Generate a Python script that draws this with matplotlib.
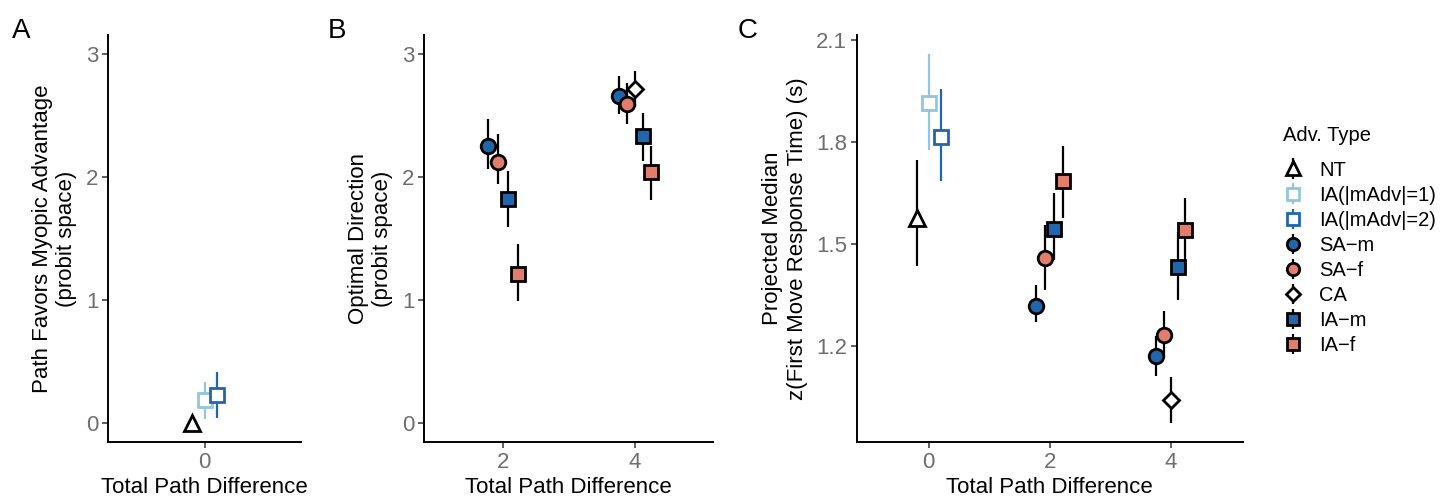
import numpy as np
import matplotlib
matplotlib.use("Agg")
import matplotlib.pyplot as plt

plt.rcParams['font.family'] = ['Liberation Sans', 'DejaVu Sans']

# adv types, in legend order
types = ["NT", "IA(|mAdv|=1)", "IA(|mAdv|=2)", "SA\u2212m", "SA\u2212f", "CA", "IA\u2212m", "IA\u2212f"]
dodge = {"NT": -0.2, "IA(|mAdv|=1)": 0.0, "IA(|mAdv|=2)": 0.2}

# panel A: path favours myopic advantage (x = 0 only)
a_types = ["NT", "IA(|mAdv|=1)", "IA(|mAdv|=2)"]
a_y = [0.0, 0.19, 0.23]
a_lo = [-0.01, 0.03, 0.04]
a_hi = [0.01, 0.33, 0.41]

# panel B: optimal direction
b_types = ["SA\u2212m", "SA\u2212f", "IA\u2212m", "IA\u2212f",
           "SA\u2212m", "SA\u2212f", "CA", "IA\u2212m", "IA\u2212f"]
b_x = [1.775, 1.925, 2.075, 2.225, 3.76, 3.88, 4.0, 4.12, 4.24]
b_y = [2.25, 2.12, 1.82, 1.21, 2.66, 2.59, 2.71, 2.33, 2.04]
b_lo = [2.06, 1.94, 1.59, 0.99, 2.51, 2.43, 2.57, 2.13, 1.81]
b_hi = [2.47, 2.35, 2.05, 1.45, 2.82, 2.76, 2.86, 2.52, 2.25]

# panel C: projected median z(first move RT)
c_types = ["NT", "IA(|mAdv|=1)", "IA(|mAdv|=2)",
           "SA\u2212m", "SA\u2212f", "IA\u2212m", "IA\u2212f",
           "SA\u2212m", "SA\u2212f", "CA", "IA\u2212m", "IA\u2212f"]
c_x = [-0.2, 0.0, 0.2, 1.775, 1.925, 2.075, 2.225, 3.76, 3.88, 4.0, 4.12, 4.24]
c_y = [1.576, 1.916, 1.816, 1.318, 1.460, 1.546, 1.685, 1.172, 1.232, 1.043, 1.433, 1.541]
c_lo = [1.436, 1.776, 1.685, 1.271, 1.365, 1.453, 1.576, 1.113, 1.17, 0.973, 1.337, 1.453]
c_hi = [1.747, 2.059, 1.956, 1.379, 1.556, 1.652, 1.789, 1.23, 1.303, 1.11, 1.536, 1.636]

blue = "#2166AC"
lblue = "#92C5DE"
salmon = "#E27C6B"
style = {
    "NT": dict(marker="^", mfc="white", mec="black", ecolor="black", ms=12),
    "IA(|mAdv|=1)": dict(marker="s", mfc="white", mec=lblue, ecolor=lblue, ms=9.5),
    "IA(|mAdv|=2)": dict(marker="s", mfc="white", mec=blue, ecolor=blue, ms=9.5),
    "SA\u2212m": dict(marker="o", mfc=blue, mec="black", ecolor="black", ms=10.5),
    "SA\u2212f": dict(marker="o", mfc=salmon, mec="black", ecolor="black", ms=10.5),
    "CA": dict(marker="D", mfc="white", mec="black", ecolor="black", ms=8.5),
    "IA\u2212m": dict(marker="s", mfc=blue, mec="black", ecolor="black", ms=9.5),
    "IA\u2212f": dict(marker="s", mfc=salmon, mec="black", ecolor="black", ms=9.5),
}

fig = plt.figure(figsize=(14.52, 5.03), dpi=100)
axA = fig.add_axes([0.0744, 0.1213, 0.1329, 0.8087])
axB = fig.add_axes([0.292, 0.1213, 0.199, 0.8087])
axC = fig.add_axes([0.590, 0.1213, 0.266, 0.8087])

handles = {}


def draw(ax, tps, xs, ys, los, his):
    for t, x, y, lo, hi in zip(tps, xs, ys, los, his):
        s = style[t]
        h = ax.errorbar([x], [y], yerr=[[y - lo], [hi - y]], fmt=s["marker"],
                        ms=s["ms"], mfc=s["mfc"], mec=s["mec"], mew=2.0,
                        ecolor=s["ecolor"], elinewidth=1.6, capsize=0)
        handles[t] = h


draw(axA, a_types, [dodge[t] for t in a_types], a_y, a_lo, a_hi)
draw(axB, b_types, b_x, b_y, b_lo, b_hi)
draw(axC, c_types, c_x, c_y, c_lo, c_hi)

axA.set_xlim(-1.6, 1.6)
axA.set_xticks([0])
axA.set_ylim(-0.155, 3.15)
axA.set_yticks([0, 1, 2, 3])
axA.set_ylabel("Path Favors Myopic Advantage\n(probit space)", fontsize=16, labelpad=6)

axB.set_xlim(0.80, 5.18)
axB.set_xticks([2, 4])
axB.set_ylim(-0.155, 3.15)
axB.set_yticks([0, 1, 2, 3])
axB.set_ylabel("Optimal Direction\n(probit space)", fontsize=16, labelpad=6)

axC.set_xlim(-1.19, 5.19)
axC.set_xticks([0, 2, 4])
axC.set_ylim(0.918, 2.115)
axC.set_yticks([1.2, 1.5, 1.8, 2.1])
axC.set_yticklabels(["1.2", "1.5", "1.8", "2.1"])
axC.set_ylabel("Projected Median\nz(First Move Response Time) (s)", fontsize=16, labelpad=6)

for ax in (axA, axB, axC):
    ax.set_xlabel("Total Path Difference", fontsize=16, labelpad=3)
    for sp in ("top", "right"):
        ax.spines[sp].set_visible(False)
    for sp in ("left", "bottom"):
        ax.spines[sp].set_linewidth(1.4)
    ax.tick_params(labelsize=16, labelcolor="#6E6E6E", color="#333333",
                   length=4, width=1.1, pad=3)

fig.text(0.008, 0.925, "A", fontsize=20)
fig.text(0.226, 0.925, "B", fontsize=20)
fig.text(0.508, 0.925, "C", fontsize=20)

leg = fig.legend([handles[t] for t in types], types, loc="upper left",
                 bbox_to_anchor=(0.871, 0.785), frameon=False, fontsize=14.5,
                 title="Adv. Type", title_fontsize=14.5, handlelength=1.0,
                 handletextpad=0.8, labelspacing=0.3, markerscale=0.85)
leg._legend_box.align = "left"
leg._legend_box.sep = 11

fig.savefig("out.png", dpi=100)
